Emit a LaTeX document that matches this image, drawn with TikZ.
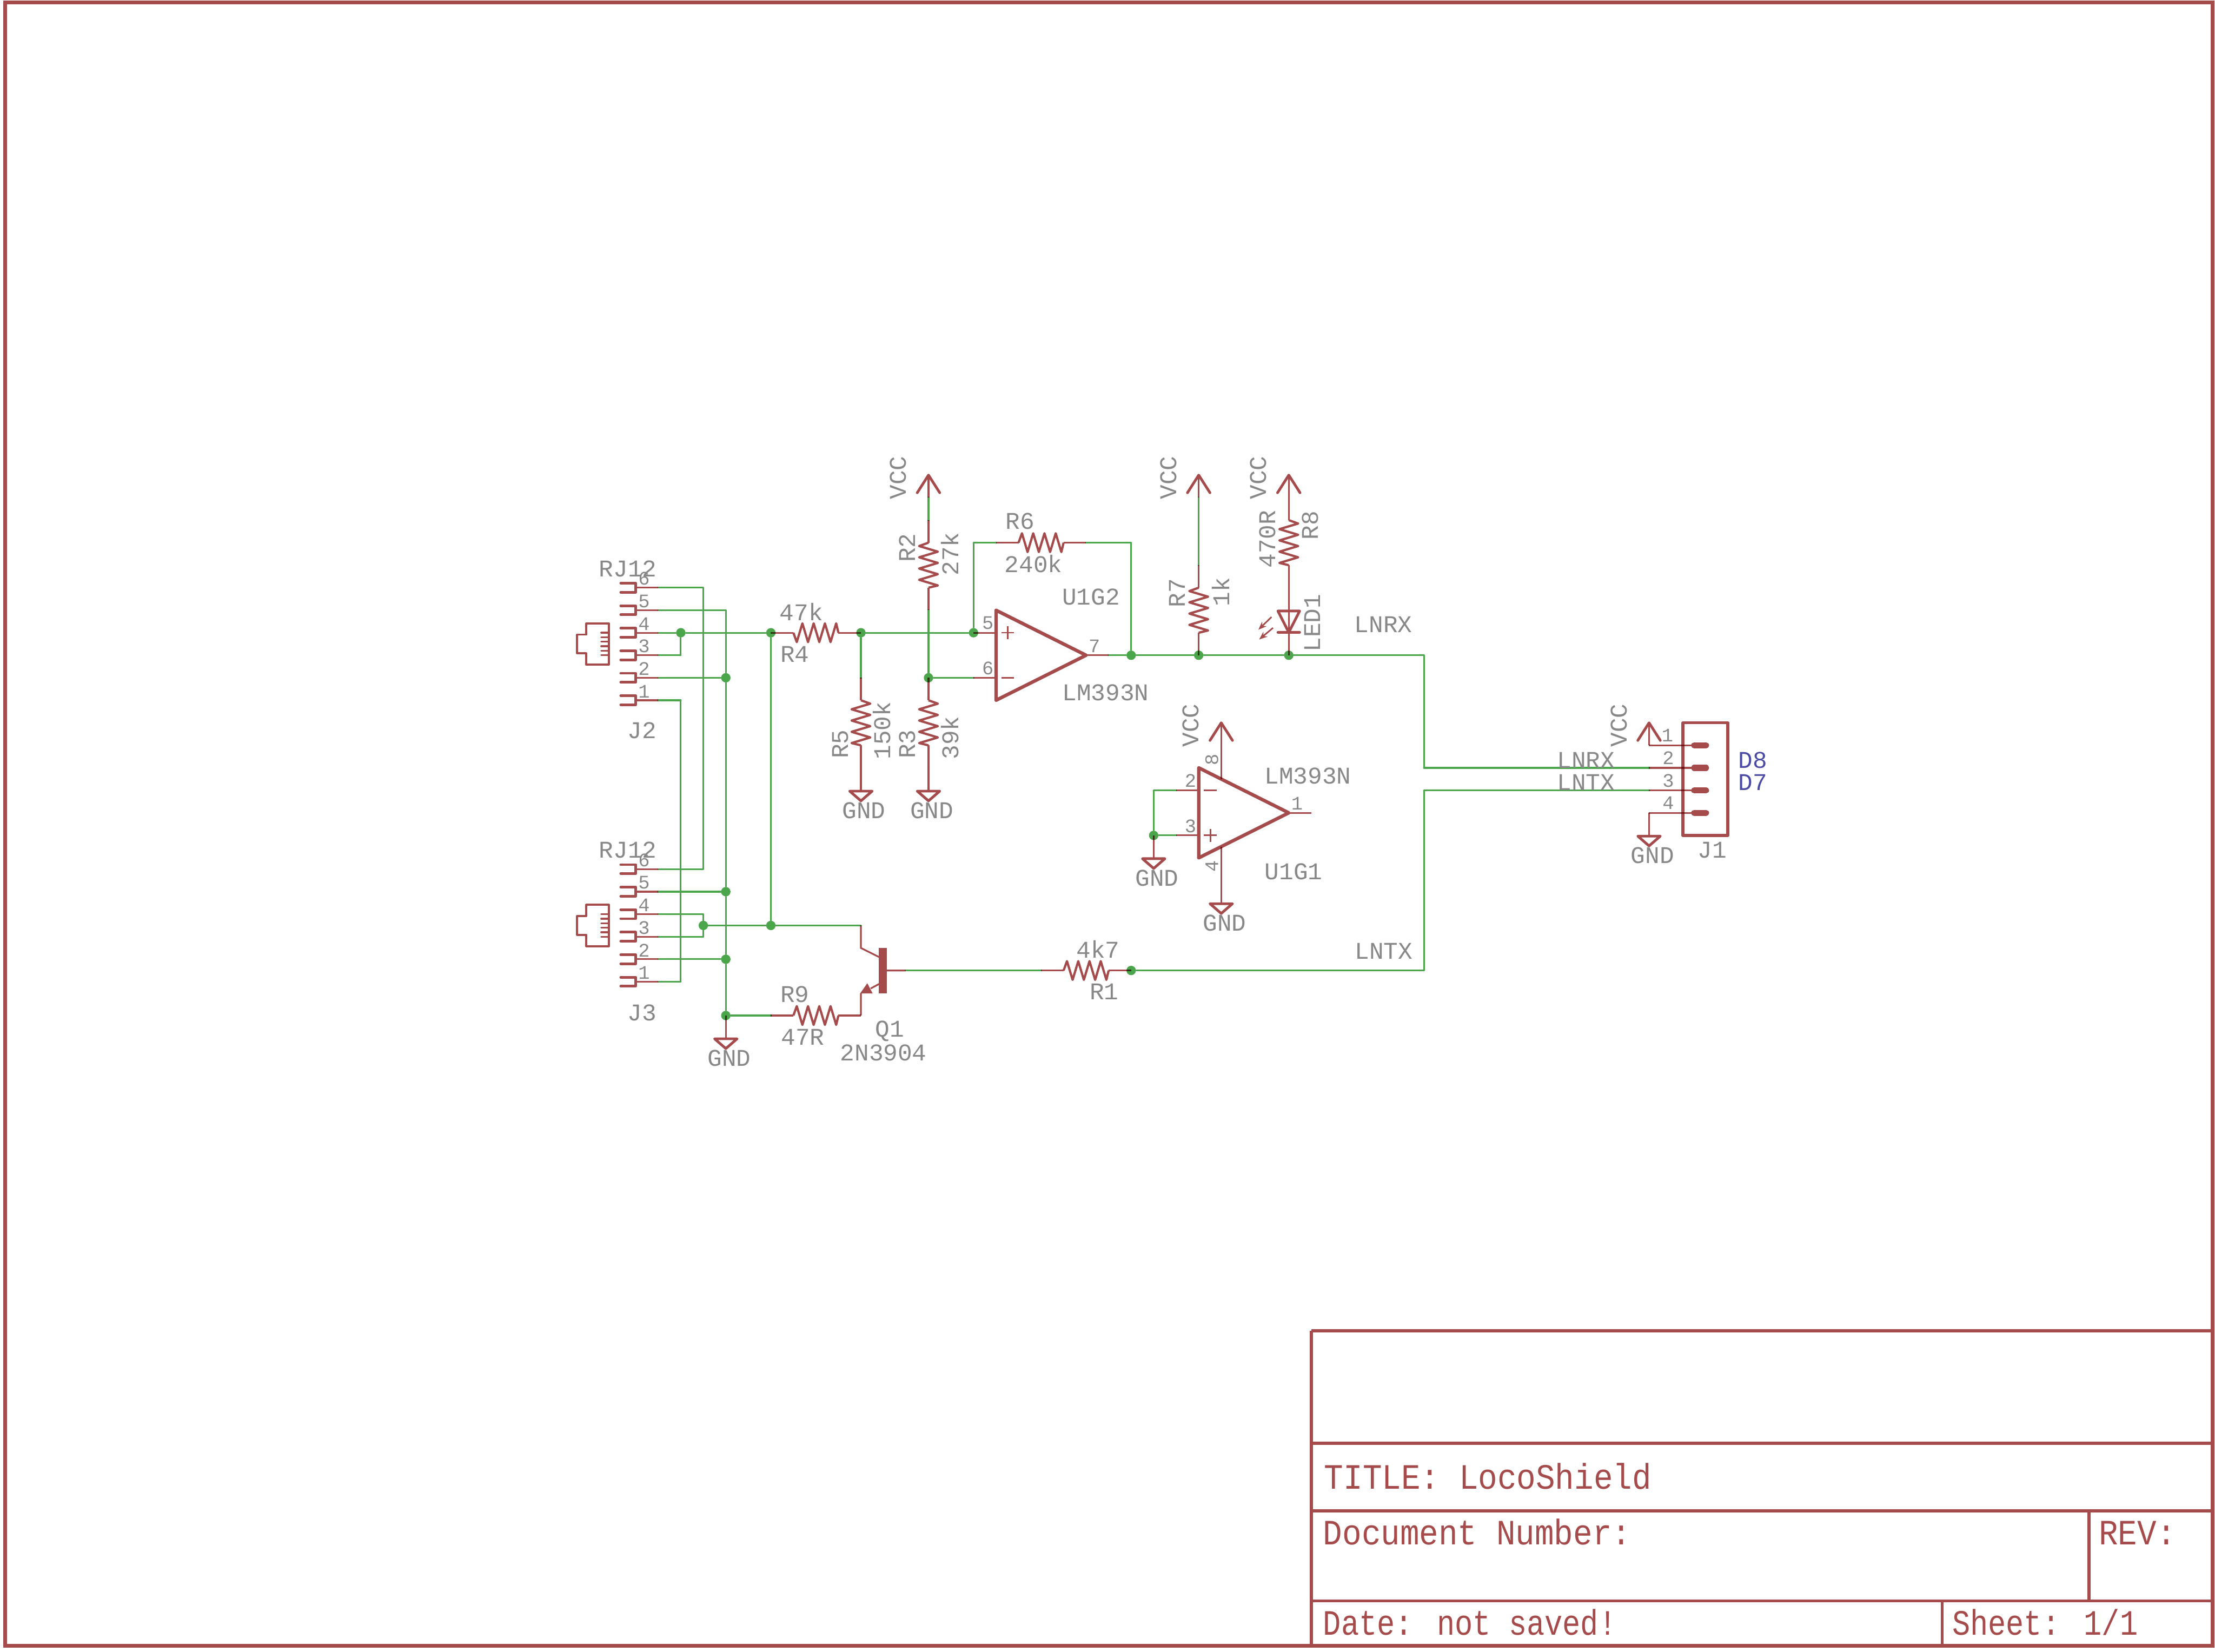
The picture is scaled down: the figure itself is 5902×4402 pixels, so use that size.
\documentclass[tikz,border=0pt]{standalone}
\usepackage{fontspec}
\setmainfont{Liberation Mono}
\newfontfamily\sheetfont[FakeStretch=0.9]{Liberation Mono}
\newfontfamily\sheetfontb[FakeStretch=0.84]{Liberation Mono}
\usetikzlibrary{arrows.meta}
\definecolor{eaglered}{RGB}{165,75,75}
\definecolor{eaglegreen}{RGB}{75,165,75}
\definecolor{eaglegray}{RGB}{136,136,136}
\definecolor{eagleblue}{RGB}{75,75,165}
\pgfdeclarelayer{wires}
\pgfsetlayers{wires,main}
\tikzset{
  every edge/.style={draw,eaglegreen,line width=0.045cm,line cap=round},
  junction/.style={circle,fill=eaglegreen,inner sep=0pt,minimum size=0.25cm},
  pin/.style={draw=eaglered,line width=0.045cm,blend mode=multiply},
  thinsym/.style={draw=eaglered,line width=0.04cm,line join=round},
  sym/.style={draw=eaglered,line width=0.07cm,line cap=round,line join=round},
  ampsym/.style={draw=eaglered,line width=0.09cm,line join=round,line cap=round},
  frame/.style={draw=eaglered,line width=0.1cm},
  sheetline/.style={draw=eaglered,line width=0.08cm},
  lbl/.style={text=eaglegray,inner sep=0pt,font=\fontsize{18.2}{18.2}\selectfont},
  lblv/.style={lbl,rotate=90},
  pinnum/.style={text=eaglegray,inner sep=0pt,font=\fontsize{14.5}{14.5}\selectfont},
  pinnumv/.style={pinnum,rotate=90},
  sig/.style={lbl,text=eagleblue},
  sheettext/.style={text=eaglered,inner sep=0pt,anchor=base west,font=\sheetfont\fontsize{27}{27}\selectfont},
  sheettextb/.style={sheettext,font=\sheetfontb\fontsize{27}{27}\selectfont},
  res/.pic={
    \coordinate (-a) at (-120,0);
    \coordinate (-b) at (120,0);
    \draw[pin] (-120,0) -- (-60,0) (60,0) -- (120,0);
    \draw[thinsym,line width=0.06cm] (-60,0) -- (-51,-25) -- (-36,25) -- (-21,-25) -- (-6,25)
       -- (9,-25) -- (24,25) -- (39,-25) -- (54,25) -- (60,0);
  },
  vccsym/.pic={
    \coordinate (-p) at (0,0);
    \draw[pin] (0,0) -- (0,-60);
    \draw[sym] (-30,-13) -- (0,-60) -- (30,-13);
  },
  gndsym/.pic={
    \coordinate (-p) at (0,0);
    \draw[pin] (0,0) -- (0,62);
    \draw[sym] (-30,62) -- (30,62) -- (0,88) -- cycle;
  },
  rjsym/.pic={
    \foreach \p/\r in {6/-150,5/-90,4/-30,3/30,2/90,1/150}{
      \coordinate (-p\p) at (60,\r);
      \draw[pin] (0,\r) -- (60,\r);
      \draw[sym] (-40,\r-12) -- (0,\r-12) -- (0,\r+12) -- (-40,\r+12);
      \node[pinnum] (-n\p) at (22,\r-24) {\p};
    }
    \draw[thinsym,line width=0.055cm] (-72,-55) -- (-132,-55) -- (-132,-25) -- (-156,-25)
       -- (-156,25) -- (-132,25) -- (-132,55) -- (-72,55) -- cycle;
    \foreach \r in {-30,-18,-6,6,18,30}
      \draw[thinsym,line width=0.05cm,line cap=round] (-92,\r) -- (-72,\r);
  },
  ampsym/.pic={
    \coordinate (-in1) at (-60,-60);
    \coordinate (-in2) at (-60,60);
    \coordinate (-out) at (300,0);
    \draw[pin] (-60,-60) -- (0,-60) (-60,60) -- (0,60) (240,0) -- (300,0);
    \draw[ampsym] (0,-120) -- (240,0) -- (0,120) -- cycle;
    \draw[thinsym] (14,-60) -- (48,-60) (31,-77) -- (31,-43) (14,60) -- (48,60);
  },
  ledsym/.pic={
    \coordinate (-a) at (0,-90);
    \coordinate (-k) at (0,90);
    \draw[pin] (0,-90) -- (0,90);
    \draw[sym] (-29,-28) -- (29,-28) -- (0,29) -- cycle (-29,29) -- (29,29);
    \draw[thinsym,-{Stealth[length=0.22cm,width=0.17cm]}] (-46,-12) -- (-81,22);
    \draw[thinsym,-{Stealth[length=0.22cm,width=0.17cm]}] (-42,17) -- (-79,48);
  },
  bjtsym/.pic={
    \coordinate (-c) at (-59,-120);
    \coordinate (-e) at (-59,120);
    \coordinate (-b) at (60,0);
    \draw[pin] (-59,-120) -- (-59,-60) -- (-11,-36) (10,0) -- (60,0) (-11,36) -- (-33,48) (-59,61) -- (-59,120);
    \fill[eaglered] (-11,-60) rectangle (10,61);
    \fill[eaglered] (-42,34) -- (-61,61) -- (-28,61) -- cycle;
  }
}

\begin{document}
\begin{tikzpicture}[x=0.01cm,y=-0.01cm]
    \useasboundingbox (0,0) rectangle (5902,4402);

    \draw[frame] (14,6) rectangle (5896,4386);
    \draw[sheetline] (3494,3546) -- (5896,3546) (3494,3846) -- (5896,3846)
                     (3494,4026) -- (5896,4026) (3494,4266) -- (5896,4266)
                     (3494,3546) -- (3494,4386) (5566,4026) -- (5566,4266)
                     (5175,4266) -- (5175,4386);
    \node[sheettext] (title) at (3528,3967) {TITLE: LocoShield};
    \node[sheettext] (docnum) at (3525,4116) {Document Number:};
    \node[sheettext] (rev) at (5592,4116) {REV:};
    \node[sheettextb] (date) at (3525,4356) {Date: not saved!};
    \node[sheettextb] (sheet) at (5201,4356) {Sheet: 1/1};

    \pic (J2) at (1694,1716) {rjsym};
    \pic (J3) at (1694,2466) {rjsym};
    \pic (R1) at (2894,2586) {res};
    \pic[rotate=-90,yscale=-1] (R2) at (2474,1506) {res};
    \pic[rotate=-90] (R3) at (2474,1926) {res};
    \pic[yscale=-1] (R4) at (2174,1686) {res};
    \pic[rotate=-90] (R5) at (2294,1926) {res};
    \pic (R6) at (2774,1446) {res};
    \pic[rotate=-90,yscale=-1] (R7) at (3194,1626) {res};
    \pic[rotate=-90] (R8) at (3434,1446) {res};
    \pic (R9) at (2174,2706) {res};
    \pic (U1G2) at (2654,1746) {ampsym};
    \pic[yscale=-1] (U1G1) at (3194,2166) {ampsym};
    \pic (LED1) at (3434,1656) {ledsym};
    \pic (Q1) at (2353,2586) {bjtsym};
    \draw[pin] (Q1-e) -- (R9-b);
    \draw[pin] (LED1-a) -- (R8-b);

    \pic (vcc1) at (2474,1326) {vccsym};
    \pic (vcc2) at (3194,1326) {vccsym};
    \pic (vcc3) at (3434,1326) {vccsym};
    \pic (vcc4) at (3254,1986) {vccsym};
    \pic (vcc5) at (4394,1986) {vccsym};
    \pic (gnd1) at (2294,2046) {gndsym};
    \pic (gnd2) at (2474,2046) {gndsym};
    \pic (gnd3) at (1934,2706) {gndsym};
    \pic (gnd4) at (3074,2226) {gndsym};
    \pic (gnd5) at (3254,2346) {gndsym};
    \pic (gnd6) at (4394,2166) {gndsym};
    \coordinate (u8) at (3254,2076);
    \coordinate (u4) at (3254,2256);
    \draw[pin] (u8) -- (vcc4-p);
    \draw[pin] (u4) -- (gnd5-p);

    \draw[draw=eaglered,line width=0.08cm,line join=round] (4484,1926) rectangle (4604,2226);
    \foreach \p/\r in {1/1986,2/2046,3/2106,4/2166}{
        \coordinate (J1-p\p) at (4394,\r);
        \draw[pin] (J1-p\p) -- (4514,\r);
        \draw[draw=eaglered,line width=0.16cm,line cap=round] (4514,\r) -- (4546,\r);
    }
    \draw[pin] (vcc5-p) -- (J1-p1);
    \draw[pin] (gnd6-p) -- (J1-p4);

    \begin{pgfonlayer}{wires}
    \node[junction] (j1) at (1814,1686) {};
    \node[junction] (j2) at (2054,1686) {};
    \node[junction] (j3) at (1934,1806) {};
    \node[junction] (j4) at (2294,1686) {};
    \node[junction] (j5) at (2594,1686) {};
    \node[junction] (j6) at (2474,1806) {};
    \node[junction] (j7) at (3014,1746) {};
    \node[junction] (j8) at (3194,1746) {};
    \node[junction] (j9) at (3434,1746) {};
    \node[junction] (j10) at (1934,2376) {};
    \node[junction] (j11) at (1934,2556) {};
    \node[junction] (j12) at (1934,2706) {};
    \node[junction] (j13) at (1874,2466) {};
    \node[junction] (j14) at (2054,2466) {};
    \node[junction] (j15) at (3014,2586) {};
    \node[junction] (j16) at (3074,2226) {};
    \coordinate (k1) at (1874,1566);
    \coordinate (k2) at (1874,2316);
    \coordinate (k3) at (1934,1626);
    \coordinate (k4) at (1814,1866);
    \coordinate (k5) at (1814,2616);
    \coordinate (k6) at (1874,2436);
    \coordinate (k7) at (1874,2496);
    \coordinate (k8) at (2594,1446);
    \coordinate (k9) at (3014,1446);
    \coordinate (k10) at (3794,1746);
    \coordinate (k11) at (3794,2046);
    \coordinate (k12) at (3794,2586);
    \coordinate (k13) at (3794,2106);
    \coordinate (k14) at (3074,2106);
    \coordinate (k15) at (1814,1746);

    \draw   (J2-p4) edge (j1)
            (j1) edge (j2)
            (J2-p3) edge (k15)
            (k15) edge (j1)
            (J2-p6) edge (k1)
            (k1) edge (k2)
            (k2) edge (J3-p6)
            (J2-p5) edge (k3)
            (k3) edge (j3)
            (j3) edge (j10)
            (j10) edge (j11)
            (j11) edge (j12)
            (J2-p2) edge (j3)
            (J2-p1) edge (k4)
            (k4) edge (k5)
            (k5) edge (J3-p1)
            (J3-p5) edge (j10)
            (J3-p2) edge (j11)
            (J3-p4) edge (k6)
            (k6) edge (j13)
            (J3-p3) edge (k7)
            (k7) edge (j13)
            (j13) edge (j14)
            (j14) edge (Q1-c)
            (j2) edge (j14)
            (j12) edge (R9-a)
            (R4-b) edge (j5)
            (j4) edge (R5-a)
            (R2-a) edge (vcc1-p)
            (R2-b) edge (j6)
            (j6) edge (U1G2-in2)
            (j5) edge (k8)
            (k8) edge (R6-a)
            (R6-b) edge (k9)
            (k9) edge (j7)
            (U1G2-out) edge (j7)
            (j7) edge (j8)
            (j8) edge (j9)
            (j9) edge (k10)
            (k10) edge (k11)
            (k11) edge (J1-p2)
            (R7-a) edge (vcc2-p)
            (Q1-b) edge (R1-a)
            (j15) edge (k12)
            (k12) edge (k13)
            (k13) edge (J1-p3)
            (j16) edge (U1G1-in1)
            (j16) edge (k14)
            (k14) edge (U1G1-in2);
    \end{pgfonlayer}

    \node[lbl] (rj2) at (1673,1515) {RJ12};
    \node[lbl] (nJ2) at (1711,1947) {J2};
    \node[lbl] (rj3) at (1673,2265) {RJ12};
    \node[lbl] (nJ3) at (1711,2698) {J3};
    \node[lbl] (vR4) at (2135,1630) {47k};
    \node[lbl] (nR4) at (2118,1743) {R4};
    \node[lblv] (nR5) at (2239,1983) {R5};
    \node[lblv] (vR5) at (2350,1947) {150k};
    \node[lblv] (nR2) at (2418,1460) {R2};
    \node[lblv] (vR2) at (2531,1476) {27k};
    \node[lblv] (nR3) at (2418,1983) {R3};
    \node[lblv] (vR3) at (2531,1966) {39k};
    \node[lbl] (nR6) at (2718,1389) {R6};
    \node[lbl] (vR6) at (2754,1503) {240k};
    \node[lbl] (nU2) at (2907,1590) {U1G2};
    \node[lbl] (vU2) at (2946,1846) {LM393N};
    \node[lblv] (nR7) at (3137,1580) {R7};
    \node[lblv] (vR7) at (3252,1577) {1k};
    \node[lblv] (vR8) at (3377,1437) {470R};
    \node[lblv] (nR8) at (3491,1400) {R8};
    \node[lblv] (nLED) at (3497,1660) {LED1};
    \node[lbl] (net1) at (3686,1664) {LNRX};
    \node[lbl] (net2) at (3687,2535) {LNTX};
    \node[lbl] (vU1) at (3485,2067) {LM393N};
    \node[lbl] (nU1) at (3447,2323) {U1G1};
    \node[lbl] (vR1) at (2926,2529) {4k7};
    \node[lbl] (nR1) at (2942,2643) {R1};
    \node[lbl] (nR9) at (2118,2649) {R9};
    \node[lbl] (vR9) at (2139,2763) {47R};
    \node[lbl] (nQ1) at (2371,2747) {Q1};
    \node[lbl] (vQ1) at (2354,2805) {2N3904};
    \node[lbl] (net3) at (4226,2025) {LNRX};
    \node[lbl] (net4) at (4226,2085) {LNTX};
    \node[sig] (sig1) at (4670,2025) {D8};
    \node[sig] (sig2) at (4670,2085) {D7};
    \node[lbl] (nJ1) at (4562,2265) {J1};

    \node[lblv] (tv1) at (2393,1273) {VCC};
    \node[lblv] (tv2) at (3113,1273) {VCC};
    \node[lblv] (tv3) at (3353,1273) {VCC};
    \node[lblv] (tv4) at (3173,1933) {VCC};
    \node[lblv] (tv5) at (4314,1933) {VCC};
    \node[lbl] (tg1) at (2302,2160) {GND};
    \node[lbl] (tg2) at (2483,2160) {GND};
    \node[lbl] (tg3) at (1943,2820) {GND};
    \node[lbl] (tg4) at (3083,2340) {GND};
    \node[lbl] (tg5) at (3263,2460) {GND};
    \node[lbl] (tg6) at (4403,2280) {GND};

    \node[pinnum] (p5) at (2632,1660) {5};
    \node[pinnum] (p6) at (2632,1781) {6};
    \node[pinnum] (p7) at (2916,1721) {7};
    \node[pinnum] (p2) at (3172,2080) {2};
    \node[pinnum] (p3) at (3172,2201) {3};
    \node[pinnum] (p1) at (3456,2141) {1};
    \node[pinnumv] (p8) at (3229,2024) {8};
    \node[pinnumv] (p4) at (3229,2308) {4};
    \node[pinnum] (q1) at (4443,1960) {1};
    \node[pinnum] (q2) at (4445,2020) {2};
    \node[pinnum] (q3) at (4445,2080) {3};
    \node[pinnum] (q4) at (4445,2140) {4};
\end{tikzpicture}
\end{document}
